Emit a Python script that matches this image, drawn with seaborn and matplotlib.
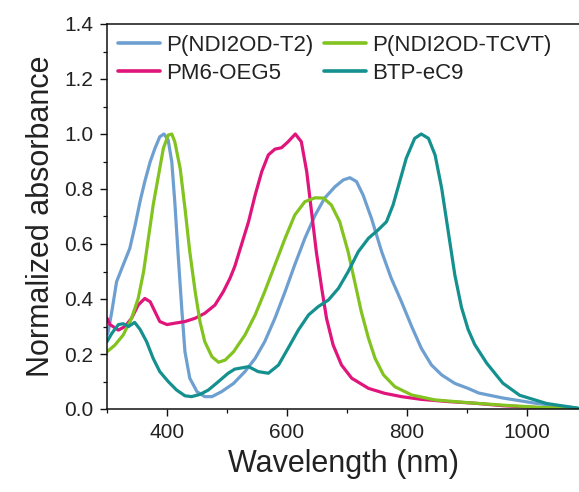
import numpy as np
import pandas as pd
import matplotlib
matplotlib.use("Agg")
import matplotlib.pyplot as plt
from matplotlib.ticker import MultipleLocator, FormatStrFormatter
import seaborn as sns

# ---- data ----
t2_wl = [300, 302, 308, 316, 327, 338, 347, 355, 363, 372, 380, 388, 395, 402, 408, 413, 419, 425, 430, 438, 450, 463, 475, 491, 511, 530, 547, 563, 580, 597, 613, 630, 647, 663, 680, 694, 705, 716, 727, 741, 758, 774, 791, 808, 824, 841, 858, 880, 902, 920, 960, 1017, 1085]
t2_val = [0.27, 0.281, 0.354, 0.463, 0.524, 0.584, 0.669, 0.754, 0.827, 0.899, 0.948, 0.99, 1.0, 0.978, 0.899, 0.754, 0.548, 0.354, 0.208, 0.112, 0.063, 0.045, 0.045, 0.063, 0.093, 0.136, 0.184, 0.245, 0.33, 0.427, 0.524, 0.621, 0.705, 0.767, 0.808, 0.833, 0.841, 0.827, 0.778, 0.693, 0.572, 0.475, 0.39, 0.30, 0.221, 0.16, 0.124, 0.093, 0.075, 0.058, 0.04, 0.02, 0.003]

tcvt_wl = [300, 313, 327, 341, 352, 361, 369, 377, 386, 394, 402, 408, 413, 422, 430, 438, 447, 455, 463, 475, 486, 497, 511, 530, 547, 563, 580, 597, 613, 630, 647, 661, 674, 688, 702, 713, 724, 736, 747, 761, 780, 808, 847, 902, 960, 1020, 1085]
tcvt_val = [0.208, 0.232, 0.269, 0.33, 0.402, 0.499, 0.621, 0.742, 0.851, 0.948, 0.996, 1.0, 0.972, 0.875, 0.73, 0.572, 0.427, 0.318, 0.245, 0.19, 0.17, 0.178, 0.208, 0.269, 0.342, 0.427, 0.524, 0.621, 0.705, 0.754, 0.768, 0.767, 0.742, 0.681, 0.572, 0.463, 0.354, 0.257, 0.184, 0.124, 0.081, 0.051, 0.033, 0.023, 0.014, 0.006, 0.001]

pm6_wl = [300, 305, 319, 330, 341, 352, 363, 372, 380, 388, 400, 413, 430, 447, 463, 480, 494, 505, 513, 524, 536, 547, 558, 569, 580, 591, 602, 614, 624, 633, 641, 649, 658, 666, 677, 691, 708, 736, 763, 791, 824, 869, 913, 960, 1020, 1085]
pm6_val = [0.33, 0.307, 0.287, 0.30, 0.33, 0.378, 0.402, 0.39, 0.354, 0.318, 0.307, 0.312, 0.318, 0.33, 0.348, 0.378, 0.427, 0.475, 0.518, 0.596, 0.681, 0.778, 0.863, 0.924, 0.945, 0.95, 0.972, 1.0, 0.972, 0.863, 0.718, 0.572, 0.439, 0.33, 0.233, 0.16, 0.112, 0.075, 0.057, 0.045, 0.035, 0.027, 0.021, 0.012, 0.005, 0.0]

btp_wl = [300, 308, 319, 327, 336, 346, 355, 366, 377, 388, 402, 416, 430, 441, 455, 469, 486, 502, 513, 536, 552, 569, 586, 602, 619, 636, 652, 669, 686, 702, 719, 736, 752, 766, 777, 788, 799, 813, 824, 836, 847, 858, 869, 880, 891, 902, 913, 933, 960, 988, 1033, 1085]
btp_val = [0.245, 0.275, 0.307, 0.31, 0.30, 0.315, 0.29, 0.245, 0.184, 0.136, 0.10, 0.069, 0.048, 0.045, 0.053, 0.069, 0.10, 0.13, 0.145, 0.154, 0.136, 0.13, 0.16, 0.221, 0.287, 0.342, 0.372, 0.396, 0.439, 0.499, 0.572, 0.621, 0.651, 0.681, 0.742, 0.827, 0.912, 0.984, 1.0, 0.984, 0.924, 0.803, 0.645, 0.487, 0.37, 0.29, 0.235, 0.167, 0.094, 0.05, 0.02, 0.003]

names = ["P(NDI2OD-T2)", "PM6-OEG5", "P(NDI2OD-TCVT)", "BTP-eC9"]
colors = ["#6e9fd1", "#e0157c", "#82c31f", "#14908f"]

frames = []
for n, wl, v in [(names[0], t2_wl, t2_val), (names[1], pm6_wl, pm6_val),
                 (names[2], tcvt_wl, tcvt_val), (names[3], btp_wl, btp_val)]:
    frames.append(pd.DataFrame({"wl": wl, "abs": v, "sample": n}))
df = pd.concat(frames, ignore_index=True)

sns.set_style("ticks")
plt.rcParams["font.family"] = ["Liberation Sans", "DejaVu Sans"]

fig = plt.figure(figsize=(5.79, 4.92), dpi=100)
ax = fig.add_axes([107 / 579, 83 / 492, 472 / 579, 385 / 492])

sns.lineplot(data=df, x="wl", y="abs", hue="sample", hue_order=names,
             palette=colors, linewidth=2.3, sort=False, estimator=None, ax=ax)
for ln in ax.get_lines():
    ln.set_solid_joinstyle("round")
    ln.set_solid_capstyle("round")

ax.set_xlim(300, 1087)
ax.set_ylim(0, 1.4)
ax.xaxis.set_major_locator(MultipleLocator(200))
ax.xaxis.set_minor_locator(MultipleLocator(100))
ax.yaxis.set_major_locator(MultipleLocator(0.2))
ax.yaxis.set_minor_locator(MultipleLocator(0.1))
ax.yaxis.set_major_formatter(FormatStrFormatter("%.1f"))
ax.set_xticks([400, 600, 800, 1000])

for s in ["left", "bottom", "top"]:
    ax.spines[s].set_linewidth(1.1)
    ax.spines[s].set_color("#111111")
ax.spines["right"].set_visible(False)
ax.tick_params(which="major", direction="out", length=5, width=1.0,
               labelsize=15, colors="#111111", labelcolor="#222222", pad=5)
ax.tick_params(which="minor", direction="out", length=3, width=0.9, colors="#111111")
ax.tick_params(top=False, right=False, which="both")

ax.set_xlabel("Wavelength (nm)", fontsize=22, color="#222222", labelpad=5)
ax.set_ylabel("Normalized absorbance", fontsize=22, color="#222222", labelpad=6)

leg = ax.legend(ncol=2, loc="upper left", bbox_to_anchor=(0.0, 1.0),
                frameon=False, fontsize=16, handlelength=1.9,
                handletextpad=0.25, columnspacing=0.5, labelspacing=0.3,
                borderaxespad=0.2, borderpad=0.3)
for t in leg.get_texts():
    t.set_color("#222222")
for h in leg.get_lines():
    h.set_linewidth(2.6)

fig.savefig("out.png", dpi=100)
